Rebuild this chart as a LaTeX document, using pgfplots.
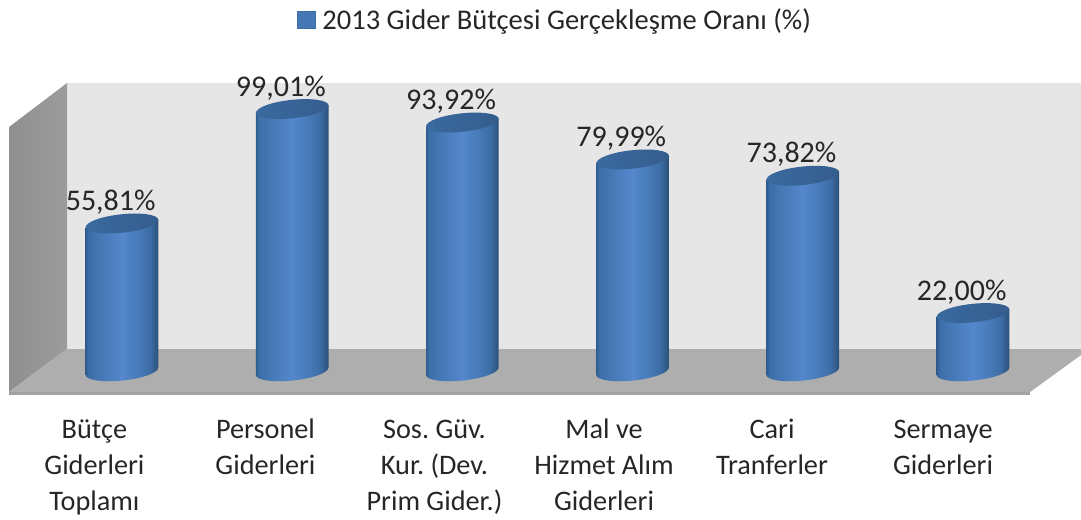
\documentclass[border=0pt]{standalone}
\usepackage{fontspec}
\setmainfont{Carlito}
\usepackage{pgfplots}
\usepackage{pgfplotstable}
\pgfplotsset{compat=1.18}
\frenchspacing
\definecolor{txt}{HTML}{262626}
\definecolor{wallback}{HTML}{E6E6E6}
\definecolor{wallfloor}{HTML}{AEAEAE}
\definecolor{wallfront}{HTML}{A2A2A2}
\definecolor{wallL}{HTML}{8F8F8F}
\definecolor{wallR}{HTML}{9C9C9C}
\definecolor{c1}{HTML}{2F5C8E}
\definecolor{c2}{HTML}{3C6EA8}
\definecolor{c3}{HTML}{4678B5}
\definecolor{c4}{HTML}{5487CC}
\definecolor{c5}{HTML}{4679B6}
\definecolor{c6}{HTML}{3D6DA6}
\definecolor{c7}{HTML}{2B5078}
\definecolor{cap1}{HTML}{3A6A9F}
\definecolor{cap2}{HTML}{355D8E}
\pgfdeclarehorizontalshading{cylbody}{100bp}{color(0bp)=(c1);color(25bp)=(c1);color(27bp)=(c2);color(35bp)=(c3);color(50bp)=(c4);color(62bp)=(c5);color(69bp)=(c6);color(75bp)=(c7);color(100bp)=(c7)}
\pgfdeclarehorizontalshading{cylcap}{100bp}{color(0bp)=(cap1);color(25bp)=(cap1);color(75bp)=(cap2);color(100bp)=(cap2)}
\pgfdeclareplotmark{cylinder}{%
  \pgfmathsetlengthmacro\hh{\val*1.98675pt}%
  \path[draw=none,shading=cylbody] (-27.25pt,-2.86pt) -- (-27.25pt,-2.86pt-\hh)
    .. controls (-26.85pt,-6.65pt-\hh) and (-14.33pt,-8.44pt-\hh) .. (0.72pt,-6.86pt-\hh)
    .. controls (15.77pt,-5.28pt-\hh) and (27.25pt,-0.93pt-\hh) .. (27.25pt,2.86pt-\hh)
    -- (27.25pt,2.86pt) -- cycle;
  \path[draw=none,shading=cylcap] (27.25pt,2.86pt)
    .. controls (26.85pt,6.65pt) and (14.33pt,8.44pt) .. (-0.72pt,6.86pt)
    .. controls (-15.77pt,5.28pt) and (-27.25pt,0.93pt) .. (-27.25pt,-2.86pt)
    .. controls (-26.85pt,-6.65pt) and (-14.33pt,-8.44pt) .. (0.72pt,-6.86pt)
    .. controls (15.77pt,-5.28pt) and (27.25pt,-0.93pt) .. (27.25pt,2.86pt) -- cycle;
}
\newcommand{\fl}{\rule{0pt}{17pt}}
\pgfplotstableread{
x v
0 55.81
1 99.01
2 93.92
3 79.99
4 73.82
5 22.00
}\gider
\begin{document}
\begin{tikzpicture}
\useasboundingbox (0,-90pt) rectangle (810.75pt,300pt);
\begin{axis}[
  at={(0,0)},anchor=south west,
  scale only axis,width=810.75pt,height=300pt,
  xmin=-0.7168,xmax=5.6345,ymin=-10.83,ymax=140.17,
  clip=false,
  axis line style={draw=none},
  tick style={draw=none},
  ytick=\empty,
  xtick={-0.162,0.843,1.836,2.832,3.819,4.824},
  xticklabels={{\fl Bütçe\\Giderleri\\Toplamı},{\fl Personel\\Giderleri},{\fl Sos. Güv.\\Kur. (Dev.\\Prim Gider.)},{\fl Mal ve\\Hizmet Alım\\Giderleri},{\fl Cari\\Tranferler},{\fl Sermaye\\Giderleri}},
  xticklabel style={align=center,anchor=north,font=\fontsize{21.2}{27}\selectfont,text=txt},
  xtick pos=bottom,
  major tick length=0pt,
  tick align=outside,
  xticklabel shift=8pt,
  legend style={draw=none,fill=none,at={(0.2747,0.95)},anchor=west,font=\fontsize{21.4}{22}\selectfont,text=txt,legend cell align=left,inner sep=0pt},
  /pgf/number format/assume math mode=true,
]
\addplot[fill=wallback,draw=none,forget plot] coordinates {(-0.3231,108.83) (5.6345,108.83) (5.6345,8.42) (-0.3231,8.42)} --cycle;
\addplot[left color=wallL,right color=wallR,draw=none,forget plot] coordinates {(-0.3231,108.83) (-0.3231,8.42) (-0.6639,-7.82) (-0.6639,92.22)} --cycle;
\addplot[fill=wallfloor,draw=none,forget plot] coordinates {(-0.3231,8.42) (5.6345,8.42) (5.6345,6.15) (5.3349,-7.82) (-0.6639,-7.82)} --cycle;
\addplot[fill=wallfront,draw=none,forget plot] coordinates {(-0.6639,-7.82) (5.3349,-7.82) (5.3349,-8.95) (-0.6639,-8.95)} --cycle;
\addplot[scatter,only marks,mark=cylinder,forget plot,
  scatter/use mapped color={draw=none,fill=none},
  point meta=y,
  visualization depends on={y \as \val},
  nodes near coords={\pgfmathprintnumber[fixed,fixed zerofill,precision=2,use comma]{\pgfplotspointmeta}\%},
  nodes near coords style={anchor=center,xshift=-8.5pt,yshift=16pt,font=\fontsize{22.5}{24}\selectfont,text=txt,inner sep=0pt},
] table[x=x,y=v] {\gider};
\addlegendimage{legend image code/.code={\fill[fill=c3,draw=c2,line width=0.4pt] (0pt,-6.4pt) rectangle (13pt,6.4pt);\path (16.5pt,0pt);}}
\addlegendentry{2013 Gider Bütçesi Gerçekleşme Oranı (\%)}
\end{axis}
\end{tikzpicture}
\end{document}
